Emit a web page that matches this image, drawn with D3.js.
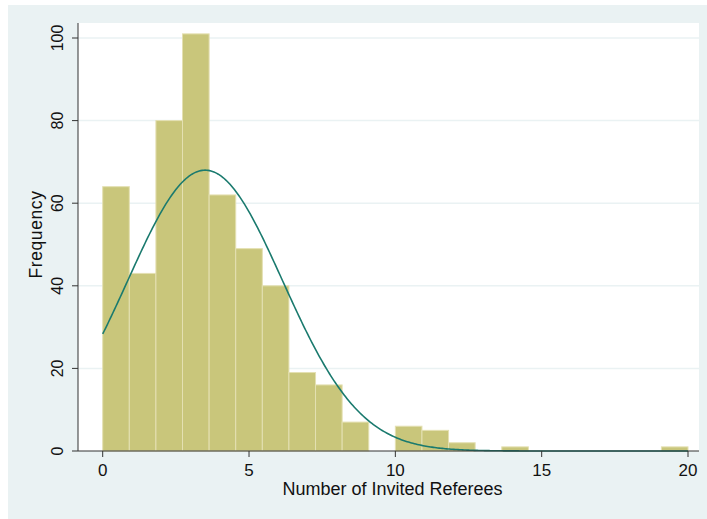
<!DOCTYPE html>
<html>
<head>
<meta charset="utf-8">
<script src="https://cdn.jsdelivr.net/npm/d3@7"></script>
<style>
  body { margin: 0; background: #fff; }
  text { font-family: "Liberation Sans", Arial, sans-serif; fill: #111; }
</style>
</head>
<body>
<svg id="chart" width="707" height="519"></svg>
<script>
// histogram: 22 bins over 0..20
const binStart = 0
const binEnd = 20
const binCounts = [64, 43, 80, 101, 62, 49, 40, 19, 16, 7, 0, 6, 5, 2, 0, 1, 0, 0, 0, 0, 0, 1]
// the data are whole numbers, value k sits in the bin that contains k
const binValues = [0, 1, 2, 3, 4, 5, 6, 7, 8, 9, null, 10, 11, 12, 13, 14, 15, 16, 17, 18, 19, 20]
const xTicks = [0, 5, 10, 15, 20]
const yTicks = [0, 20, 40, 60, 80, 100]

const svg = d3.select('#chart')
const width = 707, height = 519
const plot = {left: 78, right: 699, top: 23, bottom: 451}

const binWidth = (binEnd - binStart) / binCounts.length
const bins = binCounts.map((c, i) => ({x0: binStart + i * binWidth, x1: binStart + (i + 1) * binWidth, count: c}))

// mean and sd of the underlying values, for the normal overlay
const n = d3.sum(binCounts)
const mean = d3.sum(binCounts, (c, i) => binValues[i] == null ? 0 : c * binValues[i]) / n
const ss = d3.sum(binCounts, (c, i) => binValues[i] == null ? 0 : c * (binValues[i] - mean) ** 2)
const sd = Math.sqrt(ss / (n - 1))
const normal = x => n * binWidth * Math.exp(-((x - mean) ** 2) / (2 * sd * sd)) / (sd * Math.sqrt(2 * Math.PI))

const x = d3.scaleLinear().domain([0, 20]).range([102.7, 688])
const y = d3.scaleLinear().domain([0, 100]).range([plot.bottom, 38])

// backgrounds
svg.append('rect').attr('x', 8).attr('y', 5).attr('width', width - 8).attr('height', height - 5).attr('fill', '#eaf2f3')
svg.append('rect').attr('x', plot.left).attr('y', plot.top)
	.attr('width', plot.right - plot.left).attr('height', plot.bottom - plot.top).attr('fill', '#fff')

// grid lines
svg.append('g').selectAll('line')
	.data(yTicks.filter(d => d > 0))
	.join('line')
	.attr('x1', plot.left).attr('x2', plot.right)
	.attr('y1', d => y(d)).attr('y2', d => y(d))
	.attr('stroke', '#eaf2f3').attr('stroke-width', 1.5)

// bars
svg.append('g').selectAll('rect')
	.data(bins.filter(d => d.count > 0))
	.join('rect')
	.attr('x', d => x(d.x0))
	.attr('width', d => x(d.x1) - x(d.x0))
	.attr('y', d => y(d.count))
	.attr('height', d => y(0) - y(d.count))
	.attr('fill', '#c9c67b')
	.attr('stroke', '#e4e0b2')
	.attr('stroke-width', 1)

// normal density
const curvePts = d3.range(0, 20.001, 0.05)
svg.append('path')
	.datum(curvePts)
	.attr('fill', 'none')
	.attr('stroke', '#1a7a6e')
	.attr('stroke-width', 1.6)
	.attr('d', d3.line().x(d => x(d)).y(d => y(normal(d))))

// x axis
const xAxis = svg.append('g').attr('transform', `translate(0,${plot.bottom})`)
xAxis.append('line').attr('x1', plot.left).attr('x2', plot.right).attr('stroke', '#333').attr('stroke-width', 1)
xAxis.selectAll('.tick')
	.data(xTicks)
	.join('line')
	.attr('x1', d => x(d)).attr('x2', d => x(d))
	.attr('y1', 0).attr('y2', 6)
	.attr('stroke', '#333')
xAxis.selectAll('text')
	.data(xTicks)
	.join('text')
	.attr('x', d => x(d)).attr('y', 24.5)
	.attr('text-anchor', 'middle')
	.attr('font-size', 17)
	.text(d => d)

// y axis
const yAxis = svg.append('g').attr('transform', `translate(${plot.left},0)`)
yAxis.append('line').attr('y1', plot.top).attr('y2', plot.bottom).attr('stroke', '#333').attr('stroke-width', 1)
yAxis.selectAll('.tick')
	.data(yTicks)
	.join('line')
	.attr('x1', -6).attr('x2', 0)
	.attr('y1', d => y(d)).attr('y2', d => y(d))
	.attr('stroke', '#333')
yAxis.selectAll('text')
	.data(yTicks)
	.join('text')
	.attr('transform', d => `translate(-15.5,${y(d)}) rotate(-90)`)
	.attr('text-anchor', 'middle')
	.attr('font-size', 16)
	.text(d => d)

// titles
svg.append('text')
	.attr('x', 392.5).attr('y', 495)
	.attr('text-anchor', 'middle')
	.attr('font-size', 18)
	.text('Number of Invited Referees')
svg.append('text')
	.attr('transform', 'translate(42,234.5) rotate(-90)')
	.attr('text-anchor', 'middle')
	.attr('font-size', 17.5)
	.attr('letter-spacing', 0.6)
	.text('Frequency')
</script>
</body>
</html>
